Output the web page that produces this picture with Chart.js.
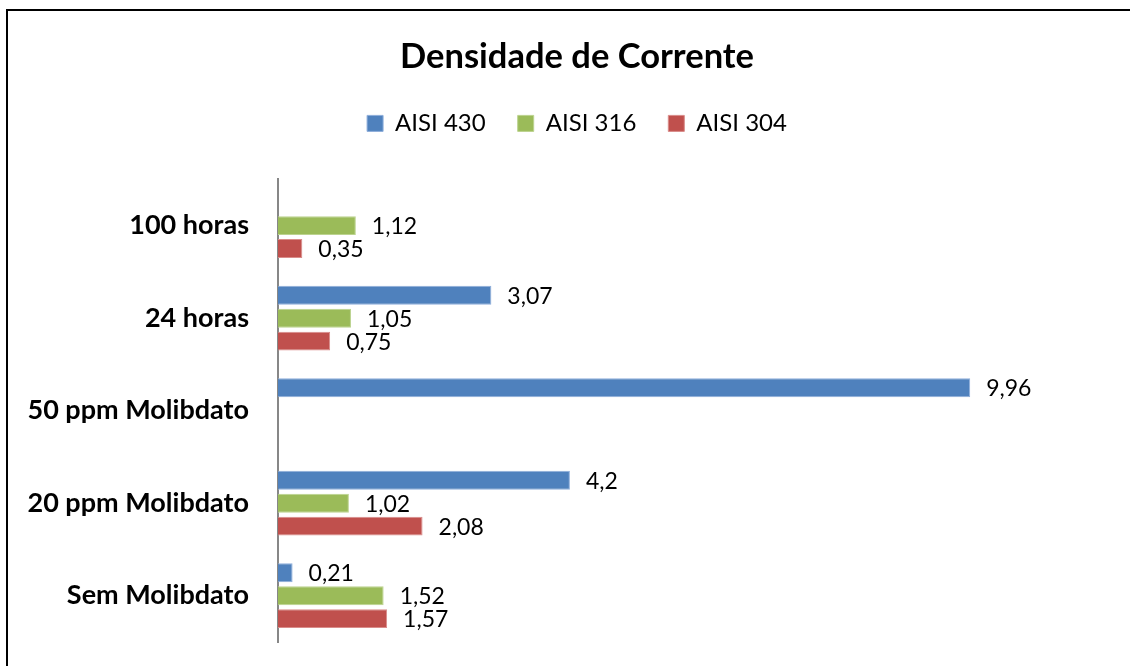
<!DOCTYPE html>
<html lang="pt">
<head>
    <meta charset="UTF-8">
    <title>Densidade de Corrente</title>
    <script src="https://cdn.jsdelivr.net/npm/chart.js"></script>
    <style>
        body { margin: 0; background: #fff; overflow: hidden; }
        .wrap { position: relative; width: 1130px; height: 666px; }
        .frame {
            position: absolute; left: 6px; top: 9px; right: -10px; bottom: -10px;
            border-top: 2px solid #000; border-left: 2px solid #000;
            pointer-events: none;
        }
        canvas { position: absolute; left: 0; top: 0; }
    </style>
</head>
<body>
<div class="wrap">
    <canvas id="chart" width="1130" height="666"></canvas>
    <div class="frame"></div>
</div>
<script>
    const categorias = ['100 horas', '24 horas', '50 ppm Molibdato', '20 ppm Molibdato', 'Sem Molibdato'];
    const aisi430 = [null, 3.07, 9.96, 4.2, 0.21];
    const aisi316 = [1.12, 1.05, null, 1.02, 1.52];
    const aisi304 = [0.35, 0.75, null, 2.08, 1.57];

    const fonte = 'Lato, "Noto Sans", sans-serif';
    const margemEsq = 42;

    // rótulos de valor com vírgula decimal, à direita de cada barra
    const rotulos = {
        id: 'rotulos',
        afterLayout(chart) {
            // deixa os nomes longos das categorias passarem da margem esquerda
            chart.scales.y.left = 0;
        },
        afterDatasetsDraw(chart) {
            const ctx = chart.ctx;
            ctx.save();
            ctx.font = '23px ' + fonte;
            ctx.fillStyle = '#000';
            ctx.textAlign = 'left';
            ctx.textBaseline = 'middle';
            chart.data.datasets.forEach((ds, i) => {
                const meta = chart.getDatasetMeta(i);
                meta.data.forEach((bar, j) => {
                    const v = ds.data[j];
                    if (v === null) return;
                    ctx.fillText(String(v).replace('.', ','), bar.x + 16, bar.y + 1);
                });
            });
            ctx.restore();
        }
    };

    new Chart(document.getElementById('chart'), {
        type: 'bar',
        data: {
            labels: categorias,
            datasets: [
                { label: 'AISI 430', data: aisi430, backgroundColor: '#4F81BD', borderColor: '#8eaedb', borderWidth: 1 },
                { label: 'AISI 316', data: aisi316, backgroundColor: '#9BBB59', borderColor: '#bcd38f', borderWidth: 1 },
                { label: 'AISI 304', data: aisi304, backgroundColor: '#C0504D', borderColor: '#d98c8a', borderWidth: 1 }
            ]
        },
        options: {
            indexAxis: 'y',
            responsive: false,
            animation: false,
            devicePixelRatio: 1,
            layout: { padding: { left: margemEsq, right: 18, top: 0, bottom: 24 } },
            datasets: { bar: { categoryPercentage: 0.743, barPercentage: 0.826 } },
            plugins: {
                title: {
                    display: true,
                    text: 'Densidade de Corrente',
                    color: '#000',
                    font: { family: fonte, size: 34.5, weight: 'bold' },
                    padding: { top: 36, bottom: 2 }
                },
                legend: {
                    position: 'top',
                    labels: {
                        color: '#000',
                        font: { family: fonte, size: 24 },
                        boxWidth: 16,
                        boxHeight: 16,
                        padding: 32
                    }
                },
                tooltip: { enabled: false }
            },
            scales: {
                x: {
                    position: 'top',
                    min: 0,
                    max: 12,
                    grid: { display: false },
                    border: { display: false },
                    ticks: { display: false },
                    afterFit(scale) { scale.height = 34; }
                },
                y: {
                    grid: { display: false, drawTicks: false },
                    border: { display: true, color: '#878787', width: 2 },
                    ticks: {
                        color: '#000',
                        padding: 29,
                        font: { family: fonte, size: 27, weight: 'bold' }
                    },
                    afterFit(scale) {
                        scale.width = 278 - margemEsq;
                        // o espaçamento dos rótulos não deve encolher a área do gráfico
                        scale.paddingTop = 0;
                        scale.paddingBottom = 0;
                    }
                }
            }
        },
        plugins: [rotulos]
    });
</script>
</body>
</html>
